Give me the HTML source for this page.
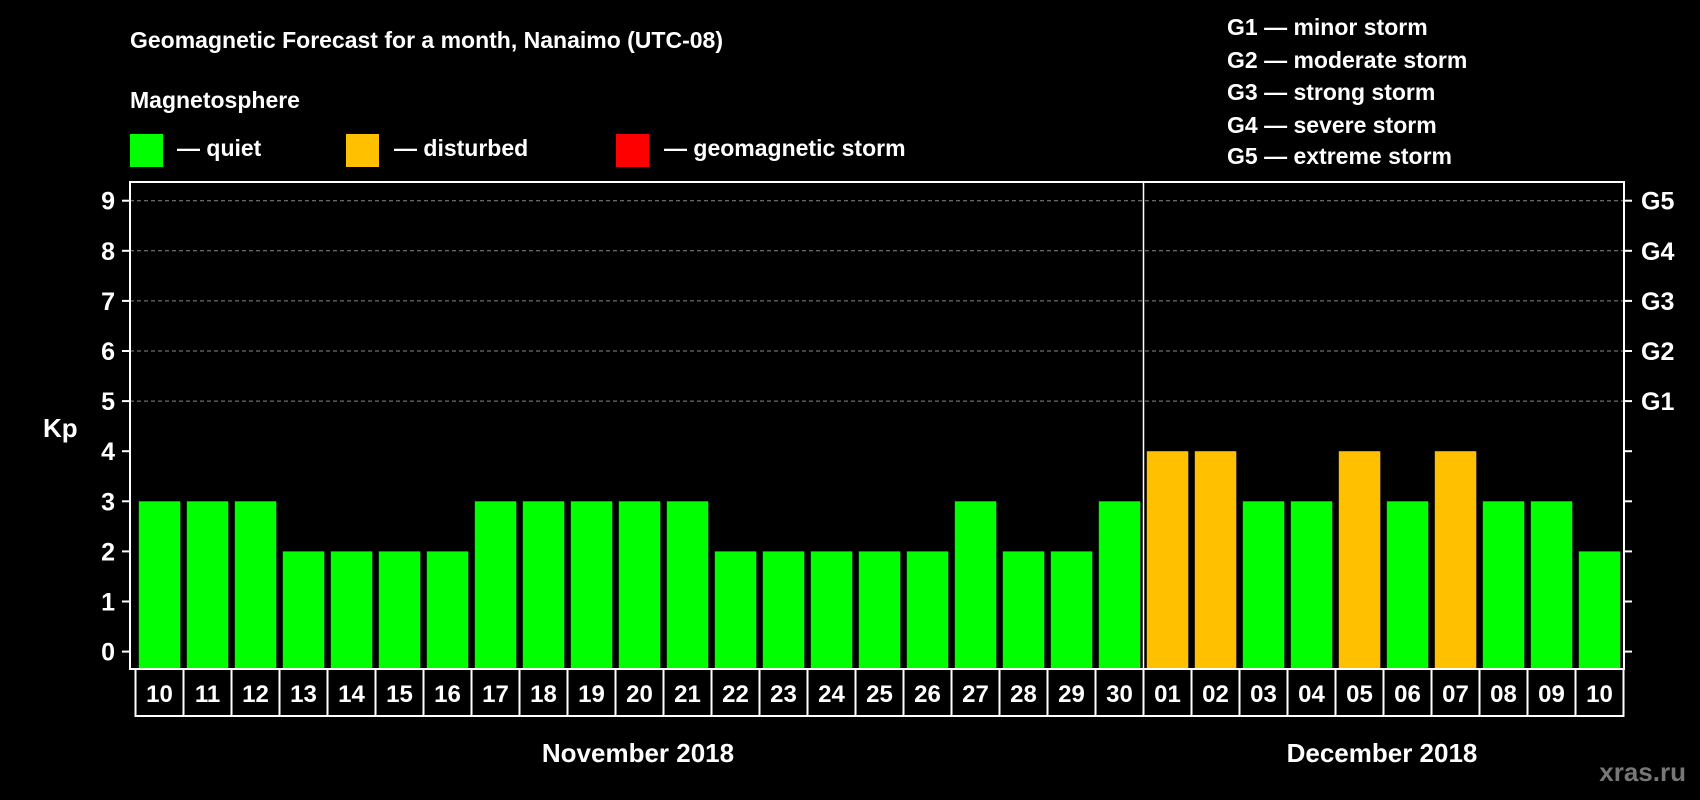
<!DOCTYPE html>
<html><head><meta charset="utf-8"><style>
body{margin:0;background:#000;width:1700px;height:800px;overflow:hidden}
svg{display:block;font-family:"Liberation Sans",Arial,sans-serif;font-weight:bold}
</style></head><body>
<svg id="c" width="1700" height="800">
<rect width="1700" height="800" fill="#000"/>
<text x="130" y="48" fill="#fff" font-size="23">Geomagnetic Forecast for a month, Nanaimo (UTC-08)</text>
<text x="130" y="108" fill="#fff" font-size="23">Magnetosphere</text>
<g><rect x="130" y="134" width="33" height="33" fill="#00ff00"/><text x="177" y="156" fill="#fff" font-size="23">— quiet</text></g>
<g><rect x="346" y="134" width="33" height="33" fill="#ffc000"/><text x="394" y="156" fill="#fff" font-size="23">— disturbed</text></g>
<g><rect x="616" y="134" width="33" height="33" fill="#ff0000"/><text x="664" y="156" fill="#fff" font-size="23">— geomagnetic storm</text></g>
<g fill="#fff" font-size="23">
<text x="1227" y="35">G1 — minor storm</text>
<text x="1227" y="68">G2 — moderate storm</text>
<text x="1227" y="100">G3 — strong storm</text>
<text x="1227" y="133">G4 — severe storm</text>
<text x="1227" y="164">G5 — extreme storm</text>
</g>
<text x="43" y="437" fill="#fff" font-size="26">Kp</text>
<text x="638" y="762" fill="#fff" font-size="26" text-anchor="middle">November 2018</text>
<text x="1382" y="762" fill="#fff" font-size="26" text-anchor="middle">December 2018</text>
<text x="1686" y="781" fill="#777" font-size="26" text-anchor="end">xras.ru</text>
<g id="plot"></g>
</svg>
<script>
const days=["10","11","12","13","14","15","16","17","18","19","20","21","22","23","24","25","26","27","28","29","30","01","02","03","04","05","06","07","08","09","10"];
const kp=[3,3,3,2,2,2,2,3,3,3,3,3,2,2,2,2,2,3,2,2,3,4,4,3,3,4,3,4,3,3,2];
const yTicks=[0,1,2,3,4,5,6,7,8,9];
const gLabels=["G1","G2","G3","G4","G5"];
const gLevels=[5,6,7,8,9];
const NS="http://www.w3.org/2000/svg";
const g=document.getElementById('plot');
const L=130,R=1624,T=182,B=669,y0=651.6,unit=50.1,x0=138.8,pitch=48,bw=41.5;
const yS=v=>y0-v*unit;
const xS=i=>x0+i*pitch;
function mk(t,a,p){const e=document.createElementNS(NS,t);for(const k in a)e.setAttribute(k,a[k]);(p||g).appendChild(e);return e;}
gLevels.forEach(v=>{
 const e=mk('line',{x1:L,x2:R,y1:yS(v),y2:yS(v),stroke:'#888','stroke-dasharray':'4 3','stroke-width':1});
 
 
});
kp.forEach((v,i)=>{
 const c=v>=5?'#ff0000':(v>=4?'#ffc000':'#00ff00');
 const e=mk('rect',{x:xS(i),y:yS(v),width:bw,height:B-yS(v),fill:c});
 
 
});
mk('rect',{x:L,y:T,width:R-L,height:B-T,fill:'none',stroke:'#fff','stroke-width':2});
const sep=xS(21)-3.3;
const s=mk('line',{x1:sep,x2:sep,y1:T,y2:B,stroke:'#fff','stroke-width':1.5});


yTicks.forEach(v=>{
 mk('line',{x1:L-8,x2:L,y1:yS(v),y2:yS(v),stroke:'#fff','stroke-width':2});
 mk('line',{x1:R,x2:R+8,y1:yS(v),y2:yS(v),stroke:'#fff','stroke-width':2});
 const t=mk('text',{x:115,y:yS(v)+9,fill:'#fff','font-size':25,'text-anchor':'end'});
 t.textContent=v;
 
 
});
gLabels.forEach((lb,i)=>{
 const t=mk('text',{x:1641,y:yS(gLevels[i])+9,fill:'#fff','font-size':25});
 t.textContent=lb;
 
 
});
days.forEach((d,i)=>{
 const cx=xS(i)-3.3;
 mk('rect',{x:cx,y:B,width:pitch,height:47,fill:'none',stroke:'#fff','stroke-width':2});
 const t=mk('text',{x:cx+pitch/2,y:B+33,fill:'#fff','font-size':24,'text-anchor':'middle'});
 t.textContent=d;
 
 
});
</script>
</body></html>
